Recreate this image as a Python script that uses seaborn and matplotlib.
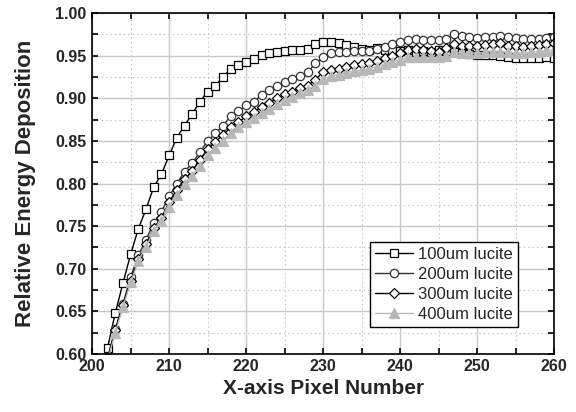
import numpy as np
import pandas as pd
import matplotlib
matplotlib.use('Agg')
import matplotlib.pyplot as plt
import seaborn as sns
from matplotlib.ticker import MultipleLocator, FormatStrFormatter

# pixel positions 202..260
pixels = np.arange(202, 261)

lucite_100 = [0.607, 0.648, 0.683, 0.717, 0.747, 0.770, 0.796, 0.811, 0.833, 0.854,
              0.868, 0.882, 0.896, 0.908, 0.915, 0.925, 0.935, 0.939, 0.943, 0.946,
              0.951, 0.953, 0.954, 0.956, 0.957, 0.957, 0.958, 0.964, 0.966, 0.966,
              0.965, 0.963, 0.960, 0.958, 0.957, 0.959, 0.957, 0.957, 0.956, 0.957,
              0.955, 0.956, 0.955, 0.957, 0.956, 0.955, 0.953, 0.952, 0.951, 0.951,
              0.951, 0.950, 0.948, 0.947, 0.947, 0.947, 0.947, 0.948, 0.947]
lucite_200 = [0.596, 0.629, 0.659, 0.690, 0.716, 0.734, 0.754, 0.767, 0.785, 0.800,
              0.814, 0.824, 0.837, 0.850, 0.859, 0.868, 0.879, 0.885, 0.892, 0.896,
              0.904, 0.910, 0.914, 0.919, 0.923, 0.926, 0.931, 0.941, 0.948, 0.953,
              0.955, 0.955, 0.956, 0.956, 0.956, 0.9585, 0.960, 0.964, 0.966, 0.969,
              0.970, 0.969, 0.969, 0.968, 0.970, 0.975, 0.973, 0.972, 0.971, 0.972,
              0.972, 0.973, 0.972, 0.971, 0.970, 0.970, 0.970, 0.971, 0.972]
lucite_300 = [0.594, 0.628, 0.657, 0.686, 0.712, 0.729, 0.748, 0.760, 0.778, 0.793,
              0.805, 0.815, 0.828, 0.840, 0.849, 0.857, 0.866, 0.872, 0.879, 0.884,
              0.890, 0.895, 0.900, 0.905, 0.908, 0.912, 0.915, 0.922, 0.931, 0.933,
              0.935, 0.937, 0.939, 0.940, 0.942, 0.944, 0.947, 0.9495, 0.953, 0.957,
              0.958, 0.957, 0.956, 0.955, 0.959, 0.964, 0.962, 0.962, 0.962, 0.963,
              0.964, 0.965, 0.962, 0.961, 0.960, 0.962, 0.963, 0.964, 0.965]
lucite_400 = [0.592, 0.625, 0.655, 0.684, 0.709, 0.726, 0.744, 0.756, 0.773, 0.787,
              0.799, 0.809, 0.821, 0.833, 0.842, 0.850, 0.859, 0.866, 0.872, 0.877,
              0.883, 0.888, 0.893, 0.898, 0.902, 0.906, 0.910, 0.915, 0.923, 0.926,
              0.928, 0.930, 0.932, 0.933, 0.935, 0.937, 0.940, 0.943, 0.945, 0.948,
              0.948, 0.948, 0.948, 0.948, 0.950, 0.954, 0.953, 0.953, 0.953, 0.954,
              0.955, 0.955, 0.954, 0.953, 0.953, 0.954, 0.955, 0.956, 0.957]

labels = ['100um lucite', '200um lucite', '300um lucite', '400um lucite']
series = [lucite_100, lucite_200, lucite_300, lucite_400]

sns.set_style('white')
plt.rcParams['font.family'] = ['Liberation Sans', 'DejaVu Sans']

fig = plt.figure(figsize=(5.76, 4.12), dpi=100)
ax = fig.add_axes([0.16, 0.141, 0.802, 0.827])

styles = [
    dict(marker='s', color='black', markerfacecolor='white', markeredgecolor='black', markersize=5.5),
    dict(marker='o', color='#333333', markerfacecolor='white', markeredgecolor='#333333', markersize=6),
    dict(marker='D', color='black', markerfacecolor='white', markeredgecolor='black', markersize=5),
    dict(marker='^', color='#b8b8b8', markerfacecolor='#b8b8b8', markeredgecolor='#b8b8b8', markersize=6.5),
]

for vals, lab, st in zip(series, labels, styles):
    df = pd.DataFrame({'x': pixels, 'y': vals})
    sns.lineplot(data=df, x='x', y='y', ax=ax, label=lab, linewidth=1,
                 markeredgewidth=0.9, **st)

ax.set_xlim(200, 260)
ax.set_ylim(0.60, 1.00)
ax.xaxis.set_major_locator(MultipleLocator(10))
ax.xaxis.set_minor_locator(MultipleLocator(5))
ax.yaxis.set_major_locator(MultipleLocator(0.05))
ax.yaxis.set_minor_locator(MultipleLocator(0.025))
ax.yaxis.set_major_formatter(FormatStrFormatter('%.2f'))

ax.grid(which='major', color='#c8c8c8', linestyle='-', linewidth=1)
ax.grid(which='minor', color='#c8c8c8', linestyle=(0, (1.5, 2.5)), linewidth=0.8)
ax.set_axisbelow(True)

for s in ax.spines.values():
    s.set_color('black')
    s.set_linewidth(1.2)

ax.tick_params(which='both', direction='in', top=True, right=True, bottom=True, left=True,
               length=4, width=1.2, color='black')
ax.tick_params(which='major', labelsize=11.5, pad=4)
for t in ax.get_xticklabels() + ax.get_yticklabels():
    t.set_fontweight('bold')

ax.set_xlabel('X-axis Pixel Number', fontsize=15, fontweight='bold', labelpad=3)
ax.set_ylabel('Relative Energy Deposition', fontsize=16, fontweight='bold', labelpad=14)

leg = ax.legend(loc='lower right', bbox_to_anchor=(0.922, 0.079), fontsize=12, frameon=True,
                fancybox=False, framealpha=1, edgecolor='black', borderpad=0.3,
                handlelength=2.3, handletextpad=0.3, labelspacing=0.3, borderaxespad=0)
leg.get_frame().set_linewidth(1)

fig.savefig('out.png', dpi=100)
